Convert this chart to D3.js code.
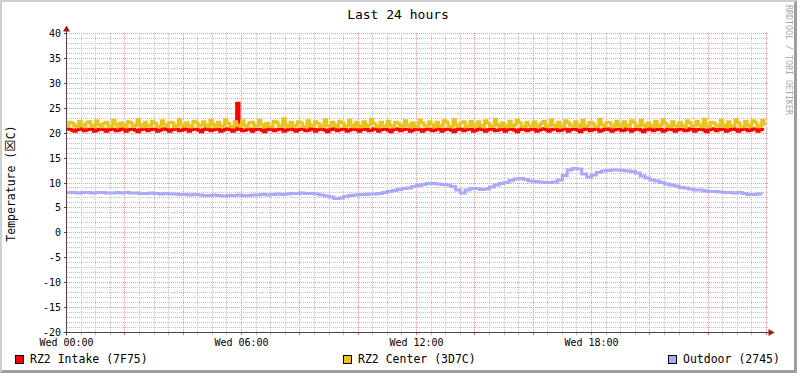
<!DOCTYPE html>
<html>
<head>
<meta charset="utf-8">
<script src="https://cdn.jsdelivr.net/npm/d3@7"></script>
<style>
  body { margin: 0; background: #fff; }
  svg { display: block; }
  text { font-family: "DejaVu Sans Mono", monospace; }
</style>
</head>
<body>
<div id="chart"></div>
<script>
// ---- data (starting Wed 00:00) ----
const startTime = new Date(2024, 0, 3, 0, 0)   // a Wednesday
const fineStep = 5      // minutes, intake + center
const coarseStep = 10   // minutes, outdoor

const intake = [
  20.8, 20.8, 20.6, 20.4, 20.7, 20.9, 20.8, 20.5, 20.7, 20.8, 20.8, 20.4,
  20.6, 20.8, 20.9, 20.7, 20.4, 20.7, 20.8, 20.8, 20.5, 20.6, 20.9, 20.8,
  20.4, 20.7, 20.8, 20.8, 20.6, 20.3, 20.7, 20.9, 20.8, 20.5, 20.7, 20.8,
  20.8, 20.4, 20.6, 20.8, 20.9, 20.7, 20.4, 20.7, 20.8, 20.8, 20.5, 20.6,
  20.9, 20.8, 20.4, 20.7, 20.8, 20.8, 20.6, 20.3, 20.7, 20.9, 20.8, 20.5,
  20.7, 20.8, 20.8, 20.4, 20.6, 20.8, 20.9, 20.7, 20.4, 20.7, 26.0, 20.8,
  20.5, 20.6, 20.9, 20.8, 20.4, 20.7, 20.8, 20.8, 20.6, 20.3, 20.7, 20.9,
  20.8, 20.5, 20.7, 20.8, 20.8, 20.4, 20.6, 20.8, 20.9, 20.7, 20.4, 20.7,
  20.8, 20.8, 20.5, 20.6, 20.9, 20.8, 20.4, 20.7, 20.8, 20.8, 20.6, 20.3,
  20.7, 20.9, 20.8, 20.5, 20.7, 20.8, 20.8, 20.4, 20.6, 20.8, 20.9, 20.7,
  20.4, 20.7, 20.8, 20.8, 20.5, 20.6, 20.9, 20.8, 20.4, 20.7, 20.8, 20.8,
  20.6, 20.3, 20.7, 20.9, 20.8, 20.5, 20.7, 20.8, 20.8, 20.4, 20.6, 20.8,
  20.9, 20.7, 20.4, 20.7, 20.8, 20.8, 20.5, 20.6, 20.9, 20.8, 20.4, 20.7,
  20.8, 20.8, 20.6, 20.3, 20.7, 20.9, 20.8, 20.5, 20.7, 20.8, 20.8, 20.4,
  20.6, 20.8, 20.9, 20.7, 20.4, 20.7, 20.8, 20.8, 20.5, 20.6, 20.9, 20.8,
  20.4, 20.7, 20.8, 20.8, 20.6, 20.3, 20.7, 20.9, 20.8, 20.5, 20.7, 20.8,
  20.8, 20.4, 20.6, 20.8, 20.9, 20.7, 20.4, 20.7, 20.8, 20.8, 20.5, 20.6,
  20.9, 20.8, 20.4, 20.7, 20.8, 20.8, 20.6, 20.3, 20.7, 20.9, 20.8, 20.5,
  20.7, 20.8, 20.8, 20.4, 20.6, 20.8, 20.9, 20.7, 20.4, 20.7, 20.8, 20.8,
  20.5, 20.6, 20.9, 20.8, 20.4, 20.7, 20.8, 20.8, 20.6, 20.3, 20.7, 20.9,
  20.8, 20.5, 20.7, 20.8, 20.8, 20.4, 20.6, 20.8, 20.9, 20.7, 20.4, 20.7,
  20.8, 20.8, 20.5, 20.6, 20.9, 20.8, 20.4, 20.7, 20.8, 20.8, 20.6, 20.3,
  20.7, 20.9, 20.8, 20.5, 20.7, 20.8, 20.8, 20.4, 20.6, 20.8, 20.9, 20.7,
  20.4, 20.7, 20.8, 20.8, 20.5, 20.6, 20.9, 20.8, 20.4, 20.7, 20.8, 20.8
]

const center = [
  21.4, 22.2, 22.0, 21.5, 21.3, 22.4, 21.6, 21.3, 22.1, 22.3, 21.5, 21.4,
  22.5, 21.7, 21.3, 22.0, 22.2, 21.4, 21.3, 22.6, 21.8, 21.4, 22.1, 21.5,
  21.3, 22.3, 22.1, 21.4, 21.5, 22.7, 21.6, 21.3, 22.2, 21.5, 21.4, 22.4,
  22.0, 21.4, 21.3, 22.5, 21.7, 21.4, 22.2, 22.1, 21.3, 21.5, 22.8, 21.6,
  21.4, 22.1, 21.5, 21.3, 22.4, 22.2, 21.4, 21.6, 22.3, 21.5, 21.3, 22.6,
  21.7, 21.3, 22.2, 21.4, 21.5, 22.7, 22.0, 21.4, 21.3, 22.3, 21.6, 21.4,
  22.5, 21.5, 21.3, 22.1, 22.2, 21.4, 21.5, 22.6, 21.7, 21.3, 22.0, 21.4,
  21.3, 22.4, 22.2, 21.5, 21.4, 22.9, 21.6, 21.3, 22.2, 21.4, 21.5, 22.3,
  22.1, 21.4, 21.3, 22.5, 21.6, 21.4, 22.3, 22.0, 21.3, 21.5, 22.7, 21.5,
  21.4, 22.2, 21.6, 21.3, 22.4, 22.1, 21.4, 21.5, 22.6, 21.6, 21.3, 22.2,
  21.5, 21.3, 22.3, 21.4, 21.6, 22.8, 22.0, 21.4, 21.3, 22.2, 21.5, 21.4,
  22.4, 21.5, 21.3, 22.2, 22.0, 21.4, 21.5, 22.5, 21.6, 21.3, 22.1, 21.4,
  21.3, 22.6, 22.1, 21.5, 21.4, 22.3, 21.7, 21.3, 22.2, 21.4, 21.5, 22.5,
  22.2, 21.4, 21.3, 22.7, 21.6, 21.4, 22.1, 22.3, 21.3, 21.5, 22.4, 21.5,
  21.4, 22.3, 21.6, 21.3, 22.5, 22.0, 21.4, 21.5, 22.8, 21.6, 21.3, 22.1,
  21.5, 21.3, 22.4, 21.4, 21.6, 22.6, 22.1, 21.4, 21.3, 22.2, 21.5, 21.4,
  22.3, 21.5, 21.3, 22.0, 22.4, 21.4, 21.5, 22.7, 21.6, 21.3, 22.2, 21.4,
  21.3, 22.5, 22.1, 21.5, 21.4, 22.3, 21.6, 21.3, 22.6, 21.4, 21.5, 22.2,
  22.0, 21.4, 21.3, 22.8, 21.7, 21.4, 22.2, 22.1, 21.3, 21.5, 22.4, 21.5,
  21.4, 22.3, 21.6, 21.3, 22.5, 22.2, 21.4, 21.5, 22.6, 21.6, 21.3, 22.1,
  21.5, 21.3, 22.4, 21.4, 21.6, 22.7, 22.0, 21.4, 21.3, 22.3, 21.5, 21.4,
  22.2, 21.5, 21.3, 22.5, 22.1, 21.4, 21.5, 22.4, 21.7, 21.3, 22.8, 21.4,
  21.3, 22.2, 22.0, 21.5, 21.4, 22.6, 21.6, 21.3, 22.3, 21.4, 21.5, 22.7,
  22.1, 21.4, 21.3, 22.4, 21.6, 21.4, 22.5, 22.2, 21.3, 21.5, 22.6, 21.5
]

const outdoor = [
  8.1, 8.1, 8.0, 8.1, 8.1, 8.0, 8.1, 8.1, 8.0, 8.0, 8.1, 8.0,
  8.1, 8.0, 8.0, 7.9, 7.9, 8.0, 7.9, 7.8, 7.9, 7.8, 7.8, 7.7,
  7.7, 7.6, 7.7, 7.6, 7.5, 7.5, 7.6, 7.5, 7.4, 7.5, 7.5, 7.6,
  7.5, 7.5, 7.6, 7.6, 7.7, 7.6, 7.7, 7.8, 7.7, 7.8, 7.9, 7.9,
  8.0, 7.9, 7.9, 7.8, 7.6, 7.4, 7.2, 6.9, 7.0, 7.3, 7.5, 7.6,
  7.7, 7.7, 7.8, 7.8, 7.9, 8.1, 8.3, 8.5, 8.7, 8.9, 9.0, 9.3,
  9.5, 9.7, 9.9, 9.9, 9.8, 9.7, 9.6, 9.3, 8.6, 8.0, 8.6, 8.9,
  8.9, 8.7, 8.8, 9.2, 9.6, 9.9, 10.1, 10.5, 10.8, 10.9, 10.7, 10.4,
  10.3, 10.2, 10.1, 10.1, 10.2, 10.6, 11.5, 12.6, 12.9, 12.8, 11.8, 11.2,
  11.6, 12.1, 12.4, 12.5, 12.6, 12.6, 12.5, 12.4, 12.3, 12.0, 11.4, 11.0,
  10.6, 10.4, 10.1, 9.8, 9.6, 9.4, 9.1, 9.0, 8.8, 8.6, 8.6, 8.4,
  8.3, 8.3, 8.2, 8.1, 8.1, 8.0, 8.1, 7.9, 7.7, 7.7, 7.8, 7.7
]

const seriesNames = ['RZ2 Intake (7F75)', 'RZ2 Center (3D7C)', 'Outdoor (2745)']
const seriesColors = ['#FF0000', '#EBC31E', '#AAAAF8']
const yTickValues = [40, 35, 30, 25, 20, 15, 10, 5, 0, -5, -10, -15, -20]

// ---- layout ----
const W = 797, H = 373
const plot = {left: 66.5, right: 766.5, top: 33.5, bottom: 332.5}

const svg = d3.select('#chart').append('svg')
  .attr('width', W).attr('height', H)

// frame: light top/left shade, dark bottom/right shade, white canvas
svg.append('rect').attr('width', W).attr('height', H).attr('fill', '#9E9E9E')
svg.append('path').attr('d', `M0,0H${W}L${W - 3},3V${H - 3}H3L0,${H}Z`).attr('fill', '#CFCFCF')
svg.append('rect').attr('x', 2).attr('y', 2).attr('width', W - 5).attr('height', H - 5).attr('fill', '#FFFFFF')

const endTime = d3.timeHour.offset(startTime, 24)
const x = d3.scaleTime().domain([startTime, endTime]).range([plot.left, plot.right])
const y = d3.scaleLinear().domain([-20, 40]).range([plot.bottom, plot.top])
const crisp = v => Math.round(v - 0.5) + 0.5

//Grid lines (dash starts on whole pixels so the dots stay sharp)
const minorColor = '#C2C2C2', majorColor = '#E09A9A'
const grid = svg.append('g').attr('id', 'grid')
const minorY = d3.range(-20, 41, 1).filter(v => v % 5 !== 0)
grid.selectAll('line.hmin').data(minorY).join('line')
  .attr('x1', 67).attr('x2', 769)
  .attr('y1', d => crisp(y(d))).attr('y2', d => crisp(y(d)))
  .attr('stroke', minorColor).attr('stroke-dasharray', '1,1')

const minorX = d3.timeMinute.every(30).range(startTime, d3.timeMinute.offset(endTime, 1))
  .filter(d => !(d.getMinutes() === 0 && d.getHours() % 2 === 0))
grid.selectAll('line.vmin').data(minorX).join('line')
  .attr('x1', d => crisp(x(d))).attr('x2', d => crisp(x(d)))
  .attr('y1', 33).attr('y2', 333)
  .attr('stroke', minorColor).attr('stroke-dasharray', '1,1')

grid.selectAll('line.hmaj').data(yTickValues).join('line')
  .attr('x1', 67).attr('x2', 769)
  .attr('y1', d => crisp(y(d))).attr('y2', d => crisp(y(d)))
  .attr('stroke', majorColor).attr('stroke-dasharray', '1,1')

const majorX = d3.timeHour.every(2).range(startTime, d3.timeMinute.offset(endTime, 1))
grid.selectAll('line.vmaj').data(majorX).join('line')
  .attr('x1', d => crisp(x(d))).attr('x2', d => crisp(x(d)))
  .attr('y1', 33).attr('y2', 333)
  .attr('stroke', majorColor).attr('stroke-dasharray', '1,1')

//ticks under the x axis and left of the y axis
grid.selectAll('line.tmin').data(minorX).join('line')
  .attr('x1', d => crisp(x(d))).attr('x2', d => crisp(x(d)))
  .attr('y1', plot.bottom).attr('y2', plot.bottom + 2.5)
  .attr('stroke', '#BBBBBB')
grid.selectAll('line.tmaj').data(majorX).join('line')
  .attr('x1', d => crisp(x(d))).attr('x2', d => crisp(x(d)))
  .attr('y1', plot.bottom).attr('y2', plot.bottom + 2.5)
  .attr('stroke', '#E07070')
grid.selectAll('line.ytick').data(yTickValues).join('line')
  .attr('x1', plot.left - 2.5).attr('x2', plot.left)
  .attr('y1', d => crisp(y(d))).attr('y2', d => crisp(y(d)))
  .attr('stroke', '#6A4A4A')

//Series lines, drawn in legend order
const makeLine = step => d3.line()
  .x((d, i) => x(d3.timeMinute.offset(startTime, i * step)))
  .y(d => y(d))
  .curve(d3.curveStepAfter)

const lines = svg.append('g').attr('id', 'lines')
;[[intake, fineStep], [center, fineStep], [outdoor, coarseStep]].forEach(([values, step], k) => {
  lines.append('path')
    .attr('d', makeLine(step)(values))
    .attr('fill', 'none')
    .attr('stroke', seriesColors[k])
    .attr('stroke-width', 3)
})

//Axes with arrows
const axisColor = '#5A4040'
const arrowColor = '#9A1A1A'
svg.append('line')
  .attr('x1', plot.left).attr('x2', plot.left)
  .attr('y1', plot.bottom + 3).attr('y2', plot.top - 4)
  .attr('stroke', axisColor)
svg.append('line')
  .attr('x1', plot.left - 3).attr('x2', plot.right + 3)
  .attr('y1', plot.bottom).attr('y2', plot.bottom)
  .attr('stroke', axisColor)
svg.append('path')
  .attr('d', `M${plot.left},${plot.top - 8}L${plot.left + 3.5},${plot.top - 2}H${plot.left - 3.5}Z`)
  .attr('fill', arrowColor)
svg.append('path')
  .attr('d', `M${plot.right + 8},${plot.bottom}L${plot.right + 2},${plot.bottom - 3.5}V${plot.bottom + 3.5}Z`)
  .attr('fill', arrowColor)

//Tick labels
svg.append('g').selectAll('text').data(yTickValues).join('text')
  .attr('x', 61).attr('y', d => crisp(y(d)) + 3.6)
  .attr('text-anchor', 'end').attr('font-size', 10)
  .text(d => d)

const labelTimes = d3.timeHour.every(6).range(startTime, endTime)
const fmt = d3.timeFormat('%a %H:%M')
svg.append('g').selectAll('text').data(labelTimes).join('text')
  .attr('x', d => x(d)).attr('y', 345.5)
  .attr('text-anchor', 'middle').attr('font-size', 10)
  .text(d => fmt(d))

//Titles
svg.append('text')
  .attr('x', 398).attr('y', 18.5)
  .attr('text-anchor', 'middle').attr('font-size', 13)
  .text('Last 24 hours')

const yTitle = svg.append('text')
  .attr('transform', 'translate(15,183.5) rotate(-90)')
  .attr('text-anchor', 'middle').attr('font-size', 11.5)
yTitle.append('tspan').text('Temperature (')
yTitle.append('tspan').attr('font-family', 'DejaVu Sans').attr('font-size', 14).text('\u2612')
yTitle.append('tspan').text('C)')

svg.append('text')
  .attr('transform', 'translate(785.5,5) rotate(90)')
  .attr('font-size', 8.3).attr('fill', '#A8A8A8')
  .text('RRDTOOL / TOBI OETIKER')

//Legend
const legendX = [15, 343, 668]
const legend = svg.append('g').attr('id', 'legend')
seriesNames.forEach((name, k) => {
  legend.append('rect')
    .attr('x', legendX[k] + 0.5).attr('y', 355.5)
    .attr('width', 8).attr('height', 8)
    .attr('fill', seriesColors[k]).attr('stroke', '#000')
  legend.append('text')
    .attr('x', legendX[k] + 15).attr('y', 363.2)
    .attr('font-size', 11.5)
    .text(name)
})
</script>
</body>
</html>
